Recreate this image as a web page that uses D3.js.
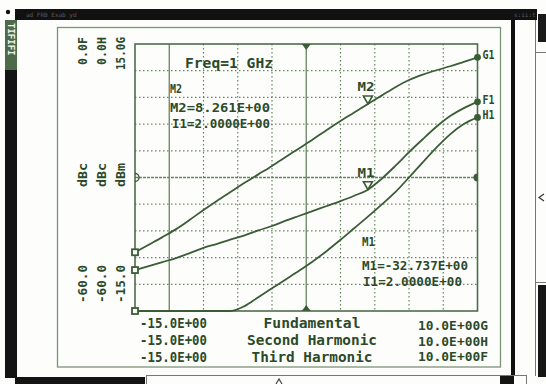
<!DOCTYPE html>
<html>
<head>
<meta charset="utf-8">
<script src="https://cdn.jsdelivr.net/npm/d3@7/dist/d3.min.js"></script>
<style>
  html, body { margin: 0; padding: 0; background: #ffffff; }
  svg { display: block; }
  text { font-family: "DejaVu Sans Mono", "Liberation Mono", monospace; font-weight: bold; }
</style>
</head>
<body>
<svg id="chart" width="546" height="384"></svg>
<script>
// Power sweep, input level in dBm
const inputPower = [-15, -14, -13, -12, -11, -10, -9, -8, -7, -6, -5, -4, -3,
                    -2, -1, 0, 1, 2, 3, 4, 5, 6, 7, 8, 9, 10];

// Fundamental output, dBm  (trace G)
const fundamental = [-8.4, -7.55, -6.7, -5.8, -4.75, -3.65, -2.6, -1.6, -0.6, 0.35, 1.3, 2.3, 3.3,
                     4.3, 5.35, 6.35, 7.3, 8.261, 9.2, 10.15, 10.95, 11.55, 12.05, 12.5, 13.0, 13.5];

// Second harmonic, dBc  (trace H, pinned at the bottom of the graticule at low drive)
const secondHarmonic = [-60, -60, -60, -60, -60, -60, -60, -60, -58.9, -56.9, -54.9, -52.9, -50.9,
                        -48.8, -46.5, -44.0, -41.4, -38.8, -36.1, -33.3, -30.0, -26.6, -23.3, -20.3, -18.0, -16.5];

// Third harmonic, dBc  (trace F)
const thirdHarmonic = [-50.8, -49.9, -49.0, -48.1, -47.0, -45.8, -44.9, -43.9, -43.0, -41.9, -40.9, -39.7, -38.6,
                       -37.5, -36.4, -35.3, -34.1, -32.737, -30.3, -27.4, -24.3, -21.4, -18.6, -16.2, -14.4, -13.0];

// Scale end labels (left column, rotated) and sweep annotation rows
const yTopLabels    = ["0.0F", "0.0H", "15.0G"];
const yUnitLabels   = ["dBc", "dBc", "dBm"];
const yBottomLabels = ["-60.0", "-60.0", "-15.0"];
const sweepStart    = ["-15.0E+00", "-15.0E+00", "-15.0E+00"];
const traceNames    = ["Fundamental", "Second Harmonic", "Third Harmonic"];
const sweepStop     = ["10.0E+00G", "10.0E+00H", "10.0E+00F"];
const freqLabel     = "Freq=1 GHz";
const markerInput   = 2.0;

const INK = "#2c4a2a";
const TRACE = "#3a5c36";
const GRID = "#67855f";

const svg = d3.select("#chart");

// ---------- window chrome ----------
svg.append("rect").attr("width", 546).attr("height", 384).attr("fill", "#fdfefc");
svg.append("rect").attr("x", 15).attr("y", 9).attr("width", 522).attr("height", 11).attr("fill", "#111");
svg.append("text").attr("x", 26).attr("y", 17).attr("font-size", 6).attr("fill", "#5a5a5a")
  .style("font-weight", "normal").text("ad   FRB   Exab  yd");
svg.append("text").attr("x", 514).attr("y", 17).attr("font-size", 6).attr("fill", "#5a5a5a")
  .style("font-weight", "normal").text("s:ii:t");
svg.append("circle").attr("cx", 8).attr("cy", 12).attr("r", 2.2).attr("fill", "#111");

svg.append("rect").attr("x", 5).attr("y", 20).attr("width", 12).attr("height", 358).attr("fill", "#141414");
svg.append("rect").attr("x", 5).attr("y", 20).attr("width", 12).attr("height", 50).attr("fill", "#4d6b48");
svg.append("text").attr("transform", "translate(11,23) rotate(90)").attr("font-size", 9)
  .attr("fill", "#f4f4f4").attr("dominant-baseline", "central").text("TIFIFI");

svg.append("rect").attr("x", 57.5).attr("y", 27.5).attr("width", 443).attr("height", 339.5)
  .attr("fill", "none").attr("stroke", "#7c9276").attr("stroke-width", 1.3);

svg.append("rect").attr("x", 511).attr("y", 20).attr("width", 4).attr("height", 356).attr("fill", "#111");
svg.append("line").attr("x1", 535.5).attr("x2", 535.5).attr("y1", 20).attr("y2", 376)
  .attr("stroke", "#777").attr("stroke-width", 1);
svg.append("rect").attr("x", 538).attr("y", 14).attr("width", 8).attr("height", 28).attr("fill", "#1a1a1a");
svg.append("line").attr("x1", 535).attr("x2", 546).attr("y1", 52.5).attr("y2", 52.5).attr("stroke", "#777");
svg.append("path").attr("d", "M544,194 L539,197.5 L544,201").attr("fill", "none").attr("stroke", "#333").attr("stroke-width", 1.2);
svg.append("line").attr("x1", 535).attr("x2", 546).attr("y1", 282.5).attr("y2", 282.5).attr("stroke", "#777");
svg.append("rect").attr("x", 538).attr("y", 285).attr("width", 8).attr("height", 92).attr("fill", "#161616");

svg.append("rect").attr("x", 15).attr("y", 377).attr("width", 130).attr("height", 7).attr("fill", "#141414");
svg.append("rect").attr("x", 146.5).attr("y", 375.5).attr("width", 380).attr("height", 12)
  .attr("fill", "none").attr("stroke", "#777");
svg.append("path").attr("d", "M276,384 L279,379 L282,384").attr("fill", "none").attr("stroke", "#444").attr("stroke-width", 1.2);
svg.append("rect").attr("x", 500).attr("y", 376).attr("width", 14).attr("height", 8).attr("fill", "#141414");

// ---------- graticule ----------
const plotL = 135, plotR = 477.5, plotT = 44, plotB = 311;
const x = d3.scaleLinear().domain([-15, 10]).range([plotL, plotR]);
const yG = d3.scaleLinear().domain([-15, 15]).range([plotB, plotT]);
const yHF = d3.scaleLinear().domain([-60, 0]).range([plotB, plotT]);

const divisions = d3.range(1, 10);
const gx = x.domain()[0], gStep = (x.domain()[1] - x.domain()[0]) / 10;
const yStep = (yG.domain()[1] - yG.domain()[0]) / 10;

const grid = svg.append("g");
grid.selectAll("line.v").data(divisions).join("line")
  .attr("x1", d => x(gx + d * gStep)).attr("x2", d => x(gx + d * gStep))
  .attr("y1", plotT).attr("y2", plotB)
  .attr("stroke", GRID).attr("stroke-width", d => (d === 1 || d === 5) ? 1.3 : 1.2)
  .attr("stroke-dasharray", d => (d === 1 || d === 5) ? null : "1.5,2.5");
grid.selectAll("line.h").data(divisions).join("line")
  .attr("x1", plotL).attr("x2", plotR)
  .attr("y1", d => yG(yG.domain()[0] + d * yStep)).attr("y2", d => yG(yG.domain()[0] + d * yStep))
  .attr("stroke", GRID).attr("stroke-width", d => d === 5 ? 1.3 : 1.2)
  .attr("stroke-dasharray", d => d === 5 ? "3,1" : "1.5,2.5");

svg.append("rect").attr("x", plotL).attr("y", plotT).attr("width", plotR - plotL).attr("height", plotB - plotT)
  .attr("fill", "none").attr("stroke", "#4e6c49").attr("stroke-width", 1.6);

// reference position markers on the graticule edges
const midY = yG(0), midX = x(-2.5);
svg.append("path").attr("d", `M${plotL},${midY - 4} A4,4 0 0 1 ${plotL},${midY + 4}`)
  .attr("fill", "none").attr("stroke", TRACE).attr("stroke-width", 1.5);
svg.append("path").attr("d", `M${plotR},${midY - 4} A4,4 0 0 0 ${plotR},${midY + 4} Z`)
  .attr("fill", TRACE);
svg.append("path").attr("d", `M${midX - 4.5},${plotT} L${midX + 4.5},${plotT} L${midX},${plotT + 6} Z`).attr("fill", TRACE);
svg.append("path").attr("d", `M${midX - 4.5},${plotB} L${midX + 4.5},${plotB} L${midX},${plotB - 6} Z`).attr("fill", TRACE);

// ---------- traces ----------
const traces = [
  { values: fundamental,    y: yG,  tag: "G1" },
  { values: thirdHarmonic,  y: yHF, tag: "F1" },
  { values: secondHarmonic, y: yHF, tag: "H1" }
];

traces.forEach(t => {
  const pts = inputPower.map((p, i) => [p, t.values[i]]);
  const line = d3.line().x(d => x(d[0])).y(d => t.y(d[1])).curve(d3.curveMonotoneX);
  svg.append("path").attr("d", line(pts)).attr("fill", "none")
    .attr("stroke", TRACE).attr("stroke-width", 1.8);
  const p0 = pts[0], pn = pts[pts.length - 1];
  svg.append("rect").attr("x", x(p0[0]) - 3).attr("y", t.y(p0[1]) - 3).attr("width", 6).attr("height", 6)
    .attr("fill", "#fdfefc").attr("stroke", TRACE).attr("stroke-width", 1.8);
  svg.append("circle").attr("cx", x(pn[0])).attr("cy", t.y(pn[1])).attr("r", 3.4).attr("fill", TRACE);
  svg.append("text").attr("x", x(pn[0]) + 5).attr("y", t.y(pn[1]) + 2)
    .attr("font-size", 12).attr("fill", INK).attr("textLength", 12).attr("lengthAdjust", "spacingAndGlyphs")
    .text(t.tag);
});

// ---------- markers ----------
const mi = inputPower.indexOf(markerInput);
const fmt3 = v => v.toFixed(3) + "E+00";
const fmt4 = v => v.toFixed(4) + "E+00";
const markers = [
  { name: "M2", value: fundamental[mi],   y: yG },
  { name: "M1", value: thirdHarmonic[mi], y: yHF }
];
markers.forEach(m => {
  const cx = x(markerInput), tip = m.y(m.value);
  svg.append("path").attr("d", `M${cx - 4.5},${tip - 8} L${cx + 4.5},${tip - 8} L${cx},${tip} Z`)
    .attr("fill", "#fdfefc").attr("stroke", TRACE).attr("stroke-width", 1.6);
  svg.append("text").attr("x", cx - 2).attr("y", tip - 13).attr("text-anchor", "middle")
    .attr("font-size", 13).attr("fill", INK).attr("textLength", 17).attr("lengthAdjust", "spacingAndGlyphs")
    .text(m.name);
});

function label(px, py, str, size, len, anchor) {
  const t = svg.append("text").attr("x", px).attr("y", py).attr("font-size", size).attr("fill", INK)
    .attr("text-anchor", anchor || "start").text(str);
  if (len) t.attr("textLength", len).attr("lengthAdjust", "spacingAndGlyphs");
  return t;
}

label(185, 67.5, freqLabel, 14, 88);
label(170, 92.5, markers[0].name, 13, 12);
label(170, 111.5, markers[0].name + "=" + fmt3(markers[0].value), 13, 100);
label(172, 127.5, "I1=" + fmt4(markerInput), 13, 98);
label(362, 245.5, markers[1].name, 13, 13);
label(362, 270, markers[1].name + "=" + fmt3(markers[1].value), 13, 106);
label(363, 286, "I1=" + fmt4(markerInput), 13, 99);

// ---------- left scale labels (rotated) ----------
const cols = [83, 102, 120.5];
yTopLabels.forEach((s, i) => {
  svg.append("text").attr("transform", `translate(${cols[i]},37) rotate(-90)`)
    .attr("text-anchor", "end").attr("dominant-baseline", "central")
    .attr("font-size", 12).attr("fill", INK)
    .attr("textLength", s.length > 4 ? 33 : 28).attr("lengthAdjust", "spacingAndGlyphs").text(s);
});
yUnitLabels.forEach((s, i) => {
  svg.append("text").attr("transform", `translate(${cols[i]},175) rotate(-90)`)
    .attr("text-anchor", "middle").attr("dominant-baseline", "central")
    .attr("font-size", 12).attr("fill", INK)
    .attr("textLength", 24).attr("lengthAdjust", "spacingAndGlyphs").text(s);
});
yBottomLabels.forEach((s, i) => {
  svg.append("text").attr("transform", `translate(${cols[i]},303) rotate(-90)`)
    .attr("text-anchor", "start").attr("dominant-baseline", "central")
    .attr("font-size", 12).attr("fill", INK)
    .attr("textLength", 38).attr("lengthAdjust", "spacingAndGlyphs").text(s);
});

// ---------- sweep annotation rows ----------
const rowY = [328, 345, 362];
const rowYRight = [330, 346, 361];
sweepStart.forEach((s, i) => label(140, rowY[i], s, 13.5, 67));
traceNames.forEach((s, i) => label(312, rowY[i], s, 13.5, [97, 130, 121][i], "middle"));
sweepStop.forEach((s, i) => label(418, rowYRight[i], s, 13, 70));
</script>
</body>
</html>
